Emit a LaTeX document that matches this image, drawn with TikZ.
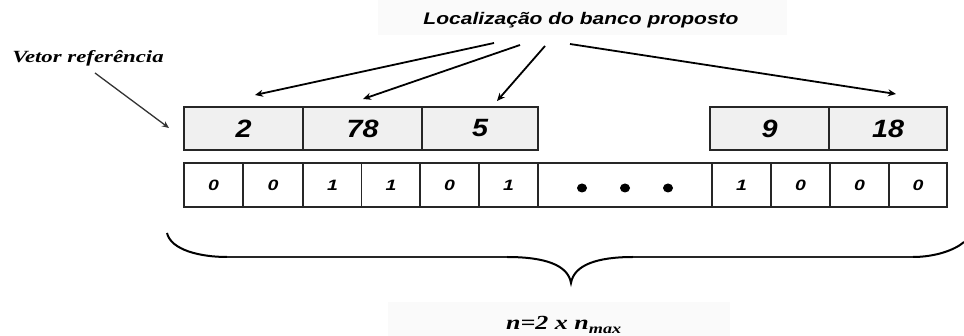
\documentclass[tikz,border=0pt]{standalone}
\usepackage{fontspec}
\setmainfont{Liberation Serif}
\setsansfont{Liberation Sans}
\usetikzlibrary{arrows.meta}
\newcommand\widetxt[2]{\scalebox{#1}[1]{#2}}
\tikzset{
  topcell/.style={draw=black!85, line width=1.6pt, fill=black!6, minimum height=43pt, inner sep=0pt, outer sep=0pt,
    font=\sffamily\bfseries\itshape\fontsize{25}{25}\selectfont},
  bitcell/.style={draw=black!85, line width=1.6pt, fill=white, minimum height=44pt, minimum width=59pt, inner sep=0pt, outer sep=0pt,
    font=\sffamily\bfseries\itshape\fontsize{15}{15}\selectfont},
  ptr/.style={line width=1.8pt, -{Stealth[length=8pt,width=7pt]}},
  lbl/.style={inner sep=0pt},
}
\begin{document}
\begin{tikzpicture}[x=1pt,y=-1pt]
\useasboundingbox (0,0) rectangle (964,336);
% title
\fill[black!2] (378,0) rectangle (787,35);
\node[lbl, font=\sffamily\bfseries\itshape\fontsize{16.8}{16.8}\selectfont] (title) at (581,20) {\widetxt{1.25}{Localização do banco proposto}};
% side label
\node[lbl, font=\rmfamily\bfseries\itshape\fontsize{19}{19}\selectfont] (vref) at (88,58) {\scalebox{1.2}[0.9]{Vetor referência}};
% top row
\node[topcell, minimum width=119pt] (t1) at (243.5,128.5) {\widetxt{1.15}{2}};
\node[topcell, minimum width=119pt] (t2) at (362.5,128.5) {\widetxt{1.15}{78}};
\node[topcell, minimum width=116pt] (t3) at (480,128.5) {\widetxt{1.15}{5}};
\node[topcell, minimum width=119pt] (t4) at (769.5,128.5) {\widetxt{1.15}{9}};
\node[topcell, minimum width=118pt] (t5) at (888,128.5) {\widetxt{1.15}{18}};
% bottom row
\node[bitcell] (b1) at (213.5,185) {\widetxt{1.3}{0}};
\node[bitcell] (b2) at (273,185) {\widetxt{1.3}{0}};
\node[bitcell] (b3) at (332.5,185) {\widetxt{1.3}{1}};
\node[bitcell] (b4) at (391,185) {\widetxt{1.3}{1}};
\node[bitcell] (b5) at (449.5,185) {\widetxt{1.3}{0}};
\node[bitcell] (b6) at (508.5,185) {\widetxt{1.3}{1}};
\node[bitcell, minimum width=174pt] (bd) at (625,185) {};
\node[bitcell] (b7) at (741.5,185) {\widetxt{1.3}{1}};
\node[bitcell] (b8) at (800.5,185) {\widetxt{1.3}{0}};
\node[bitcell] (b9) at (859.5,185) {\widetxt{1.3}{0}};
\node[bitcell, minimum width=58pt] (b10) at (918,185) {\widetxt{1.3}{0}};
\fill (582,188) ellipse (5pt and 4.5pt);
\fill (625,188) ellipse (5pt and 4.5pt);
\fill (668,188) ellipse (5pt and 4.5pt);
% pointers
\coordinate (s1) at (494,43);
\coordinate (s2) at (520,45);
\coordinate (s3) at (545,46);
\coordinate (s4) at (570,44);
\coordinate (e1) at (255,95);
\coordinate (e2) at (363,99);
\coordinate (e3) at (497,101);
\coordinate (e4) at (896,94);
\draw[ptr] (s1) -- (e1);
\draw[ptr] (s2) -- (e2);
\draw[ptr] (s3) -- (e3);
\draw[ptr] (s4) -- (e4);
\coordinate (vs) at (95,73);
\coordinate (ve) at (169,128);
\draw[line width=1.3pt, black!80, -{Stealth[length=7pt,width=6pt]}] (vs) -- (ve);
% brace
\draw[line width=2pt] (167,233) .. controls (171,250) and (200,257) .. (227,257);
\draw[line width=1.6pt, black!85] (227,257) -- (507,257);
\draw[line width=2pt] (507,257) .. controls (545,257) and (568,265) .. (571,283)
  .. controls (574,265) and (597,257) .. (633,257);
\draw[line width=1.6pt, black!85] (633,257) -- (913,257);
\draw[line width=2pt] (913,257) .. controls (935,257) and (955,250) .. (964,242);
% formula
\fill[black!2] (388,302) rectangle (730,336);
\node[lbl, font=\rmfamily\bfseries\itshape\fontsize{20}{20}\selectfont] (nform) at (564,325) {\widetxt{1.3}{n=2 x n\textsubscript{max}}};
\end{tikzpicture}
\end{document}
